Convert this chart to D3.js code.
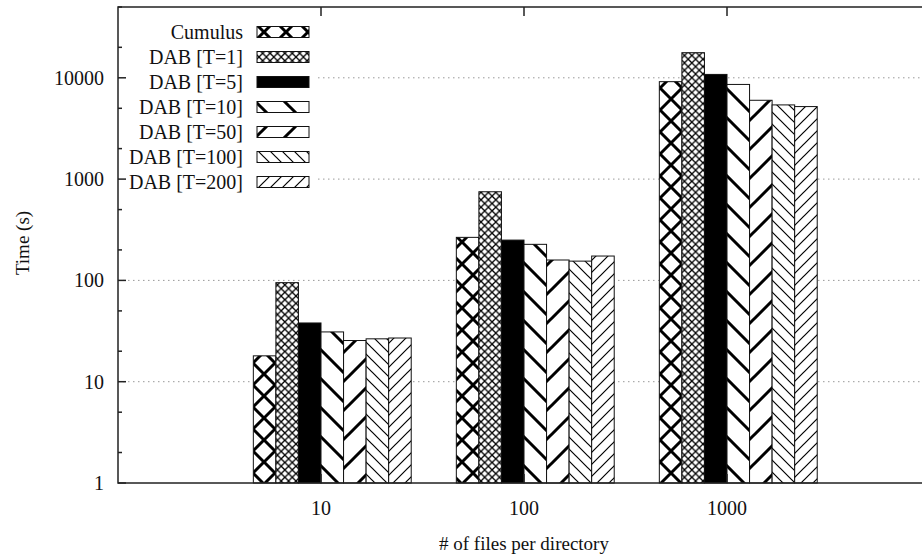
<!doctype html>
<html>
	<head>
		<meta charset="utf-8">
		<style type="text/css">
			body { margin: 0; background: #fff; }
			text { font-family: "Liberation Serif", "Times New Roman", serif; fill: #111; }
		</style>
		<script src="https://d3js.org/d3.v7.min.js"></script>
	</head>
	<body>
		<svg width="922" height="557"></svg>
		<script type="text/javascript">

			// number of files per directory (clusters)
			var categories = ["10", "100", "1000"];
			var seriesNames = ["Cumulus", "DAB [T=1]", "DAB [T=5]", "DAB [T=10]", "DAB [T=50]", "DAB [T=100]", "DAB [T=200]"];

			// time (s), one value per category
			var cumulus = [18, 266, 9160];
			var dab1 = [95, 750, 17700];
			var dab5 = [38, 250, 10800];
			var dab10 = [31, 227, 8600];
			var dab50 = [25.5, 159, 6000];
			var dab100 = [26.5, 155, 5400];
			var dab200 = [27, 174, 5200];

			var yTicks = [1, 10, 100, 1000, 10000];

			var seriesValues = [cumulus, dab1, dab5, dab10, dab50, dab100, dab200];
			var fills = ["url(#pCross)", "url(#pFine)", "#000", "url(#pBackThick)", "url(#pFwdThick)", "url(#pBackThin)", "url(#pFwdThin)"];

			var svg = d3.select("svg");

			var plotL = 118, plotR = 930, plotT = 7, plotB = 483;

			// gnuplot style cluster axis: cluster i sits at x = i, 7 bars + gap of 2
			var x = d3.scaleLinear().domain([-1, categories.length]).range([plotL, plotR]);
			var y = d3.scaleLog().domain([1, 50000]).range([plotB, plotT]);
			var slot = 1 / 9;

			// hatch patterns
			var defs = svg.append("defs");
			function hatch(id, p, sw, dirs) {
				var pat = defs.append("pattern")
					.attr("id", id)
					.attr("patternUnits", "userSpaceOnUse")
					.attr("width", p).attr("height", p);
				pat.append("rect").attr("width", p).attr("height", p).attr("fill", "#fff");
				var d = sw * 2, path = "";
				if (dirs.indexOf("\\") >= 0) {
					path += `M0,0L${p},${p}M${p - d},${-d}L${p + d},${d}M${-d},${p - d}L${d},${p + d}`;
				}
				if (dirs.indexOf("/") >= 0) {
					path += `M0,${p}L${p},0M${-d},${d}L${d},${-d}M${p - d},${p + d}L${p + d},${p - d}`;
				}
				pat.append("path").attr("d", path)
					.attr("stroke", "#000").attr("stroke-width", sw).attr("fill", "none");
			}
			hatch("pCross", 22, 3, "\\/");
			hatch("pFine", 7.4, 1.3, "\\/");
			hatch("pBackThick", 29, 3, "\\");
			hatch("pFwdThick", 29, 3, "/");
			hatch("pBackThin", 12, 1.2, "\\");
			hatch("pFwdThin", 12, 1.2, "/");

			// grid
			svg.append("g")
				.selectAll("line")
				.data(yTicks.slice(1)).enter()
				.append("line")
					.attr("x1", plotL).attr("x2", plotR)
					.attr("y1", (d) => y(d)).attr("y2", (d) => y(d))
					.attr("stroke", "#999")
					.attr("stroke-width", 1)
					.attr("stroke-dasharray", "1.5,3.5");

			// bars
			var groups = svg.append("g")
				.selectAll("g")
				.data(seriesValues).enter()
				.append("g")
					.attr("fill", (d, j) => fills[j]);
			groups.selectAll("rect")
				.data((d, j) => d.map((v, i) => ({ v: v, i: i, j: j }))).enter()
				.append("rect")
					.attr("x", (d) => x(d.i + (d.j - 3) * slot))
					.attr("width", x(slot) - x(0))
					.attr("y", (d) => y(d.v))
					.attr("height", (d) => y(1) - y(d.v))
					.attr("stroke", "#111")
					.attr("stroke-width", 1);

			// legend (opaque box)
			var legend = svg.append("g");
			legend.append("rect")
				.attr("x", plotL + 1).attr("y", plotT + 1)
				.attr("width", 198).attr("height", 188)
				.attr("fill", "#fff");
			var rows = legend.selectAll("g")
				.data(seriesNames).enter()
				.append("g")
					.attr("transform", (d, j) => `translate(0, ${32 + j * 25})`);
			rows.append("text")
				.text((d) => d)
				.attr("x", 243)
				.attr("dy", "0.35em")
				.attr("text-anchor", "end")
				.style("font-size", "20px");
			rows.append("rect")
				.attr("x", 257).attr("y", -5.5)
				.attr("width", 52).attr("height", 11)
				.attr("fill", (d, j) => fills[j])
				.attr("stroke", "#111")
				.attr("stroke-width", 1);

			// frame and ticks
			var axes = svg.append("g").attr("stroke", "#222").attr("stroke-width", 1.5);
			axes.append("rect")
				.attr("x", plotL).attr("y", plotT)
				.attr("width", plotR - plotL).attr("height", plotB - plotT)
				.attr("fill", "none");

			var minor = [];
			yTicks.forEach((t) => { [2, 5].forEach((m) => { if (t * m <= 50000) minor.push(t * m); }); });
			[plotL, plotR].forEach((x0) => {
				var s = x0 == plotL ? 1 : -1;
				axes.append("g").selectAll("line").data(yTicks).enter().append("line")
					.attr("x1", x0).attr("x2", x0 + s * 8)
					.attr("y1", (d) => y(d)).attr("y2", (d) => y(d));
				axes.append("g").selectAll("line").data(minor).enter().append("line")
					.attr("x1", x0).attr("x2", x0 + s * 4)
					.attr("y1", (d) => y(d)).attr("y2", (d) => y(d));
			});
			[plotT, plotB].forEach((y0) => {
				var s = y0 == plotT ? 1 : -1;
				axes.append("g").selectAll("line").data(categories).enter().append("line")
					.attr("x1", (d, i) => x(i)).attr("x2", (d, i) => x(i))
					.attr("y1", y0).attr("y2", y0 + s * 9);
			});

			// tick labels
			svg.append("g")
				.selectAll("text")
				.data(yTicks).enter()
				.append("text")
					.text((d) => d)
					.attr("x", 104)
					.attr("y", (d) => y(d))
					.attr("dy", "0.35em")
					.attr("text-anchor", "end")
					.style("font-size", "20px");
			svg.append("g")
				.selectAll("text")
				.data(categories).enter()
				.append("text")
					.text((d) => d)
					.attr("x", (d, i) => x(i))
					.attr("y", 508)
					.attr("dy", "0.35em")
					.attr("text-anchor", "middle")
					.style("font-size", "20px");

			// axis titles
			svg.append("text")
				.text("# of files per directory")
				.attr("x", (plotL + plotR) / 2)
				.attr("y", 543)
				.attr("dy", "0.35em")
				.attr("text-anchor", "middle")
				.style("font-size", "19px");
			svg.append("text")
				.text("Time (s)")
				.attr("transform", "translate(22, 243) rotate(-90)")
				.attr("dy", "0.35em")
				.attr("text-anchor", "middle")
				.style("font-size", "19px");
		</script>
	</body>
</html>
